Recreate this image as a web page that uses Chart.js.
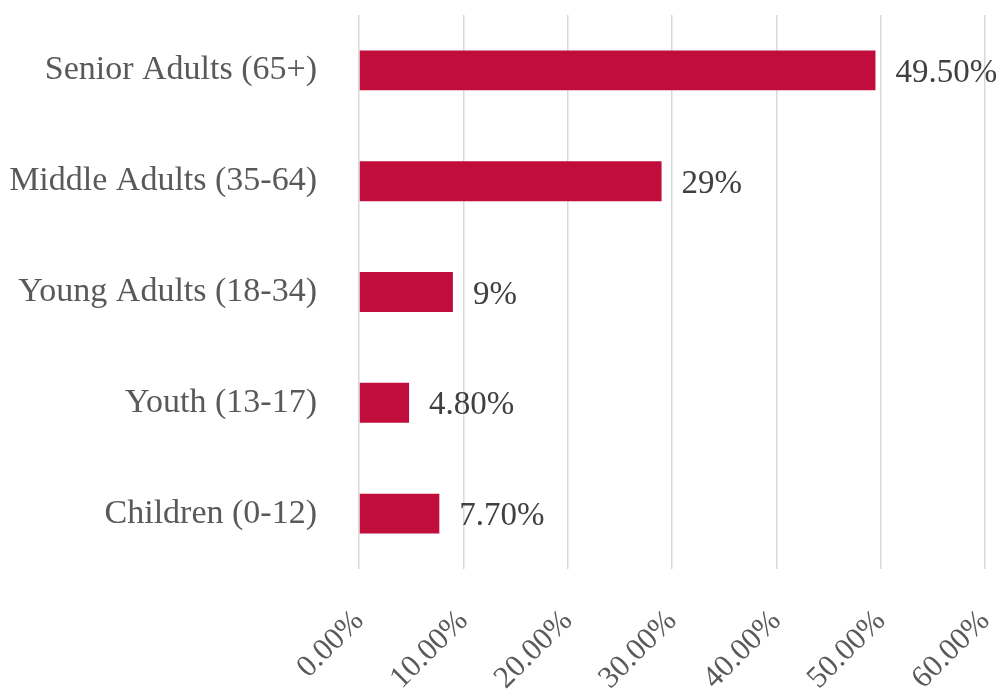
<!DOCTYPE html>
<html>
<head>
<meta charset="utf-8">
<script src="https://cdn.jsdelivr.net/npm/chart.js@4"></script>
<style>
  html, body { margin: 0; padding: 0; background: #fff; }
  #wrap { width: 1001px; height: 692px; }
</style>
</head>
<body>
<div id="wrap"><canvas id="grafico"></canvas></div>
<script>
// datos
const categorias = ["Senior Adults (65+)", "Middle Adults (35-64)", "Young Adults (18-34)", "Youth (13-17)", "Children (0-12)"];
const valores = [49.5, 29, 9, 4.8, 7.7];
const etiquetas = ["49.50%", "29%", "9%", "4.80%", "7.70%"];
const ticksX = [0, 10, 20, 30, 40, 50, 60];

const fuente = "'Liberation Serif', 'DejaVu Serif', serif";

// texto al final de cada barra
const etiquetasBarras = {
    id: "etiquetasBarras",
    afterDatasetsDraw(chart) {
        const ctx = chart.ctx;
        const meta = chart.getDatasetMeta(0);
        ctx.save();
        ctx.font = "33px " + fuente;
        ctx.fillStyle = "#404040";
        ctx.textAlign = "left";
        ctx.textBaseline = "middle";
        meta.data.forEach((bar, i) => {
            ctx.fillText(etiquetas[i], bar.x + 20, bar.y + 3);
        });
        ctx.restore();
    }
};

new Chart(document.getElementById("grafico"), {
    type: "bar",
    data: {
        labels: categorias,
        datasets: [{
            data: valores,
            backgroundColor: "#C00D3C",
            categoryPercentage: 1,
            barPercentage: 0.36
        }]
    },
    options: {
        indexAxis: "y",
        responsive: true,
        maintainAspectRatio: false,
        animation: false,
        layout: { padding: { top: 15, right: 16 } },
        plugins: {
            legend: { display: false },
            tooltip: { enabled: false }
        },
        scales: {
            x: {
                min: 0,
                max: 60,
                afterBuildTicks: s => { s.ticks = ticksX.map(v => ({ value: v })); },
                afterFit: s => {
                    s.height = 123;
                    s.paddingLeft = 0; s.paddingRight = 0;
                    s.paddingTop = 0; s.paddingBottom = 0;
                },
                grid: { color: "#d9d9d9", lineWidth: 1.5, drawTicks: false },
                border: { display: false },
                ticks: {
                    maxRotation: 45,
                    minRotation: 45,
                    padding: 34,
                    color: "#595959",
                    font: { family: fuente, size: 31 },
                    callback: v => v.toFixed(2) + "%"
                }
            },
            y: {
                afterFit: s => {
                    s.width = 359;
                    s.paddingLeft = 0; s.paddingRight = 0;
                    s.paddingTop = 0; s.paddingBottom = 0;
                },
                grid: { display: false, drawTicks: false },
                border: { display: false },
                ticks: {
                    padding: 42,
                    color: "#595959",
                    font: { family: fuente, size: 34 }
                }
            }
        }
    },
    plugins: [etiquetasBarras]
});
</script>
</body>
</html>
